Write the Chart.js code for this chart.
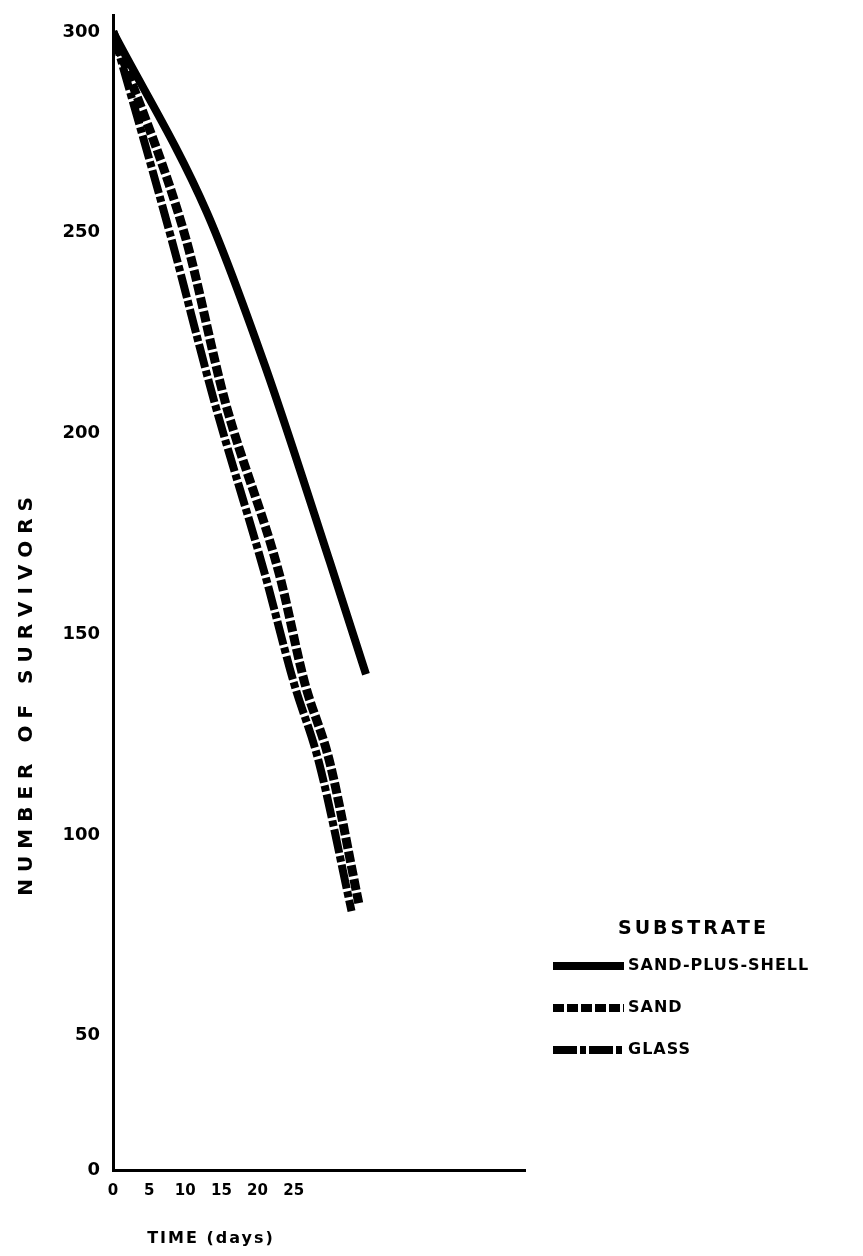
<!DOCTYPE html>
<html>
<head>
<meta charset="utf-8">
<script src="https://cdn.jsdelivr.net/npm/chart.js@4/dist/chart.umd.min.js"></script>
<style>
    html, body { margin: 0; padding: 0; background: #ffffff; }
    canvas { display: block; }
</style>
</head>
<body>
<canvas id="survivors-chart" width="863" height="1256"></canvas>
<script>
// values (days, number of survivors)
const shellDays = [0, 13, 21, 30, 35];
const shellSurvivors = [300, 255, 217, 168, 140];
const sandDays = [0, 10, 15.5, 23, 26.5, 30, 34];
const sandSurvivors = [300, 249, 208, 165, 138, 118, 83];
const glassDays = [0, 8, 14, 21, 25, 28.5, 33];
const glassSurvivors = [300, 249, 208, 165, 138, 118, 81];

const substrates = ['SAND-PLUS-SHELL', 'SAND', 'GLASS'];
const xTicks = [0, 5, 10, 15, 20, 25];
const yTicks = [0, 50, 100, 150, 200, 250, 300];

const ink = '#000000';
const family = "'DejaVu Sans', sans-serif";

// the drawn y axis is squeezed below 50: 50 sits at 11.6% of its height
const yBend = { value: 50, fraction: 0.1164 };

function spacedTitle(scale, spacing, dx, dy, draw) {
    const ctx = scale.ctx;
    ctx.save();
    ctx.letterSpacing = spacing;
    ctx.translate(dx, dy);
    draw();
    ctx.restore();
}

class SpacedLinearScale extends Chart.LinearScale {
    drawTitle() {
        spacedTitle(this, '2px', -108, 0, () => super.drawTitle());
    }
}
SpacedLinearScale.id = 'spacedLinear';
SpacedLinearScale.defaults = Chart.LinearScale.defaults;

class BentLinearScale extends Chart.LinearScale {
    toFraction(value) {
        const { value: bv, fraction: bf } = yBend;
        if (value <= bv) {
            return ((value - this.min) / (bv - this.min)) * bf;
        }
        return bf + ((value - bv) / (this.max - bv)) * (1 - bf);
    }

    fromFraction(f) {
        const { value: bv, fraction: bf } = yBend;
        if (f <= bf) {
            return this.min + (f / bf) * (bv - this.min);
        }
        return bv + ((f - bf) / (1 - bf)) * (this.max - bv);
    }

    getPixelForValue(value) {
        if (value === null || isNaN(value)) {
            return NaN;
        }
        return this.getPixelForDecimal(this.toFraction(value));
    }

    getValueForPixel(pixel) {
        return this.fromFraction(this.getDecimalForPixel(pixel));
    }

    drawTitle() {
        spacedTitle(this, '7px', 0, 100, () => super.drawTitle());
    }
}
BentLinearScale.id = 'bentLinear';
BentLinearScale.defaults = Chart.LinearScale.defaults;

Chart.register(SpacedLinearScale, BentLinearScale);

const substrateLegend = {
    id: 'substrateLegend',
    afterDraw(chart) {
        const ctx = chart.ctx;
        ctx.save();
        ctx.fillStyle = ink;
        ctx.strokeStyle = ink;
        ctx.textBaseline = 'middle';
        ctx.textAlign = 'left';
        ctx.font = `bold 19px ${family}`;
        ctx.letterSpacing = '3px';
        ctx.fillText('SUBSTRATE', 618, 929);
        ctx.font = `bold 16px ${family}`;
        ctx.letterSpacing = '1px';
        chart.data.datasets.forEach((ds, i) => {
            const y = 966 + i * 42;
            ctx.lineWidth = 8;
            ctx.lineCap = 'butt';
            ctx.setLineDash(ds.borderDash || []);
            ctx.beginPath();
            ctx.moveTo(553, y);
            ctx.lineTo(624, y);
            ctx.stroke();
            ctx.setLineDash([]);
            ctx.fillText(ds.label, 628, y);
        });
        ctx.restore();
    },
};

const toPoints = (xs, ys) => xs.map((x, i) => ({ x, y: ys[i] }));

function lineSet(label, xs, ys, width, dash) {
    return {
        label,
        data: toPoints(xs, ys),
        borderColor: ink,
        backgroundColor: ink,
        borderWidth: width,
        borderDash: dash,
        borderCapStyle: 'butt',
        borderJoinStyle: 'round',
        pointRadius: 0,
        cubicInterpolationMode: 'monotone',
        fill: false,
    };
}

new Chart(document.getElementById('survivors-chart'), {
    type: 'line',
    data: {
        datasets: [
            lineSet(substrates[0], shellDays, shellSurvivors, 8, []),
            lineSet(substrates[1], sandDays, sandSurvivors, 9, [11, 3]),
            lineSet(substrates[2], glassDays, glassSurvivors, 8, [24, 3, 6, 3]),
        ],
    },
    plugins: [substrateLegend],
    options: {
        responsive: false,
        animation: false,
        layout: { padding: { top: 10, right: 338, left: 0, bottom: 0 } },
        plugins: {
            legend: { display: false },
            tooltip: { enabled: false },
        },
        scales: {
            x: {
                type: 'spacedLinear',
                min: 0,
                max: 57,
                afterBuildTicks: (scale) => { scale.ticks = xTicks.map((value) => ({ value })); },
                afterFit: (scale) => { scale.height = 86; },
                grid: { display: false },
                border: { display: true, color: ink, width: 3 },
                ticks: {
                    color: ink,
                    padding: 4,
                    maxRotation: 0,
                    font: { family, size: 15, weight: 'bold' },
                },
                title: {
                    display: true,
                    text: 'TIME (days)',
                    color: ink,
                    font: { family, size: 16, weight: 'bold' },
                    padding: { top: 0, bottom: 8 },
                },
            },
            y: {
                type: 'bentLinear',
                min: 0,
                max: 304,
                afterBuildTicks: (scale) => { scale.ticks = yTicks.map((value) => ({ value })); },
                afterFit: (scale) => { scale.width = 113; },
                grid: { display: false },
                border: { display: true, color: ink, width: 3 },
                ticks: {
                    color: ink,
                    padding: 5,
                    font: { family, size: 18, weight: 'bold' },
                },
                title: {
                    display: true,
                    text: 'NUMBER OF SURVIVORS',
                    color: ink,
                    font: { family, size: 20, weight: 'bold' },
                    padding: { top: 15, bottom: 0 },
                },
            },
        },
    },
});
</script>
</body>
</html>
